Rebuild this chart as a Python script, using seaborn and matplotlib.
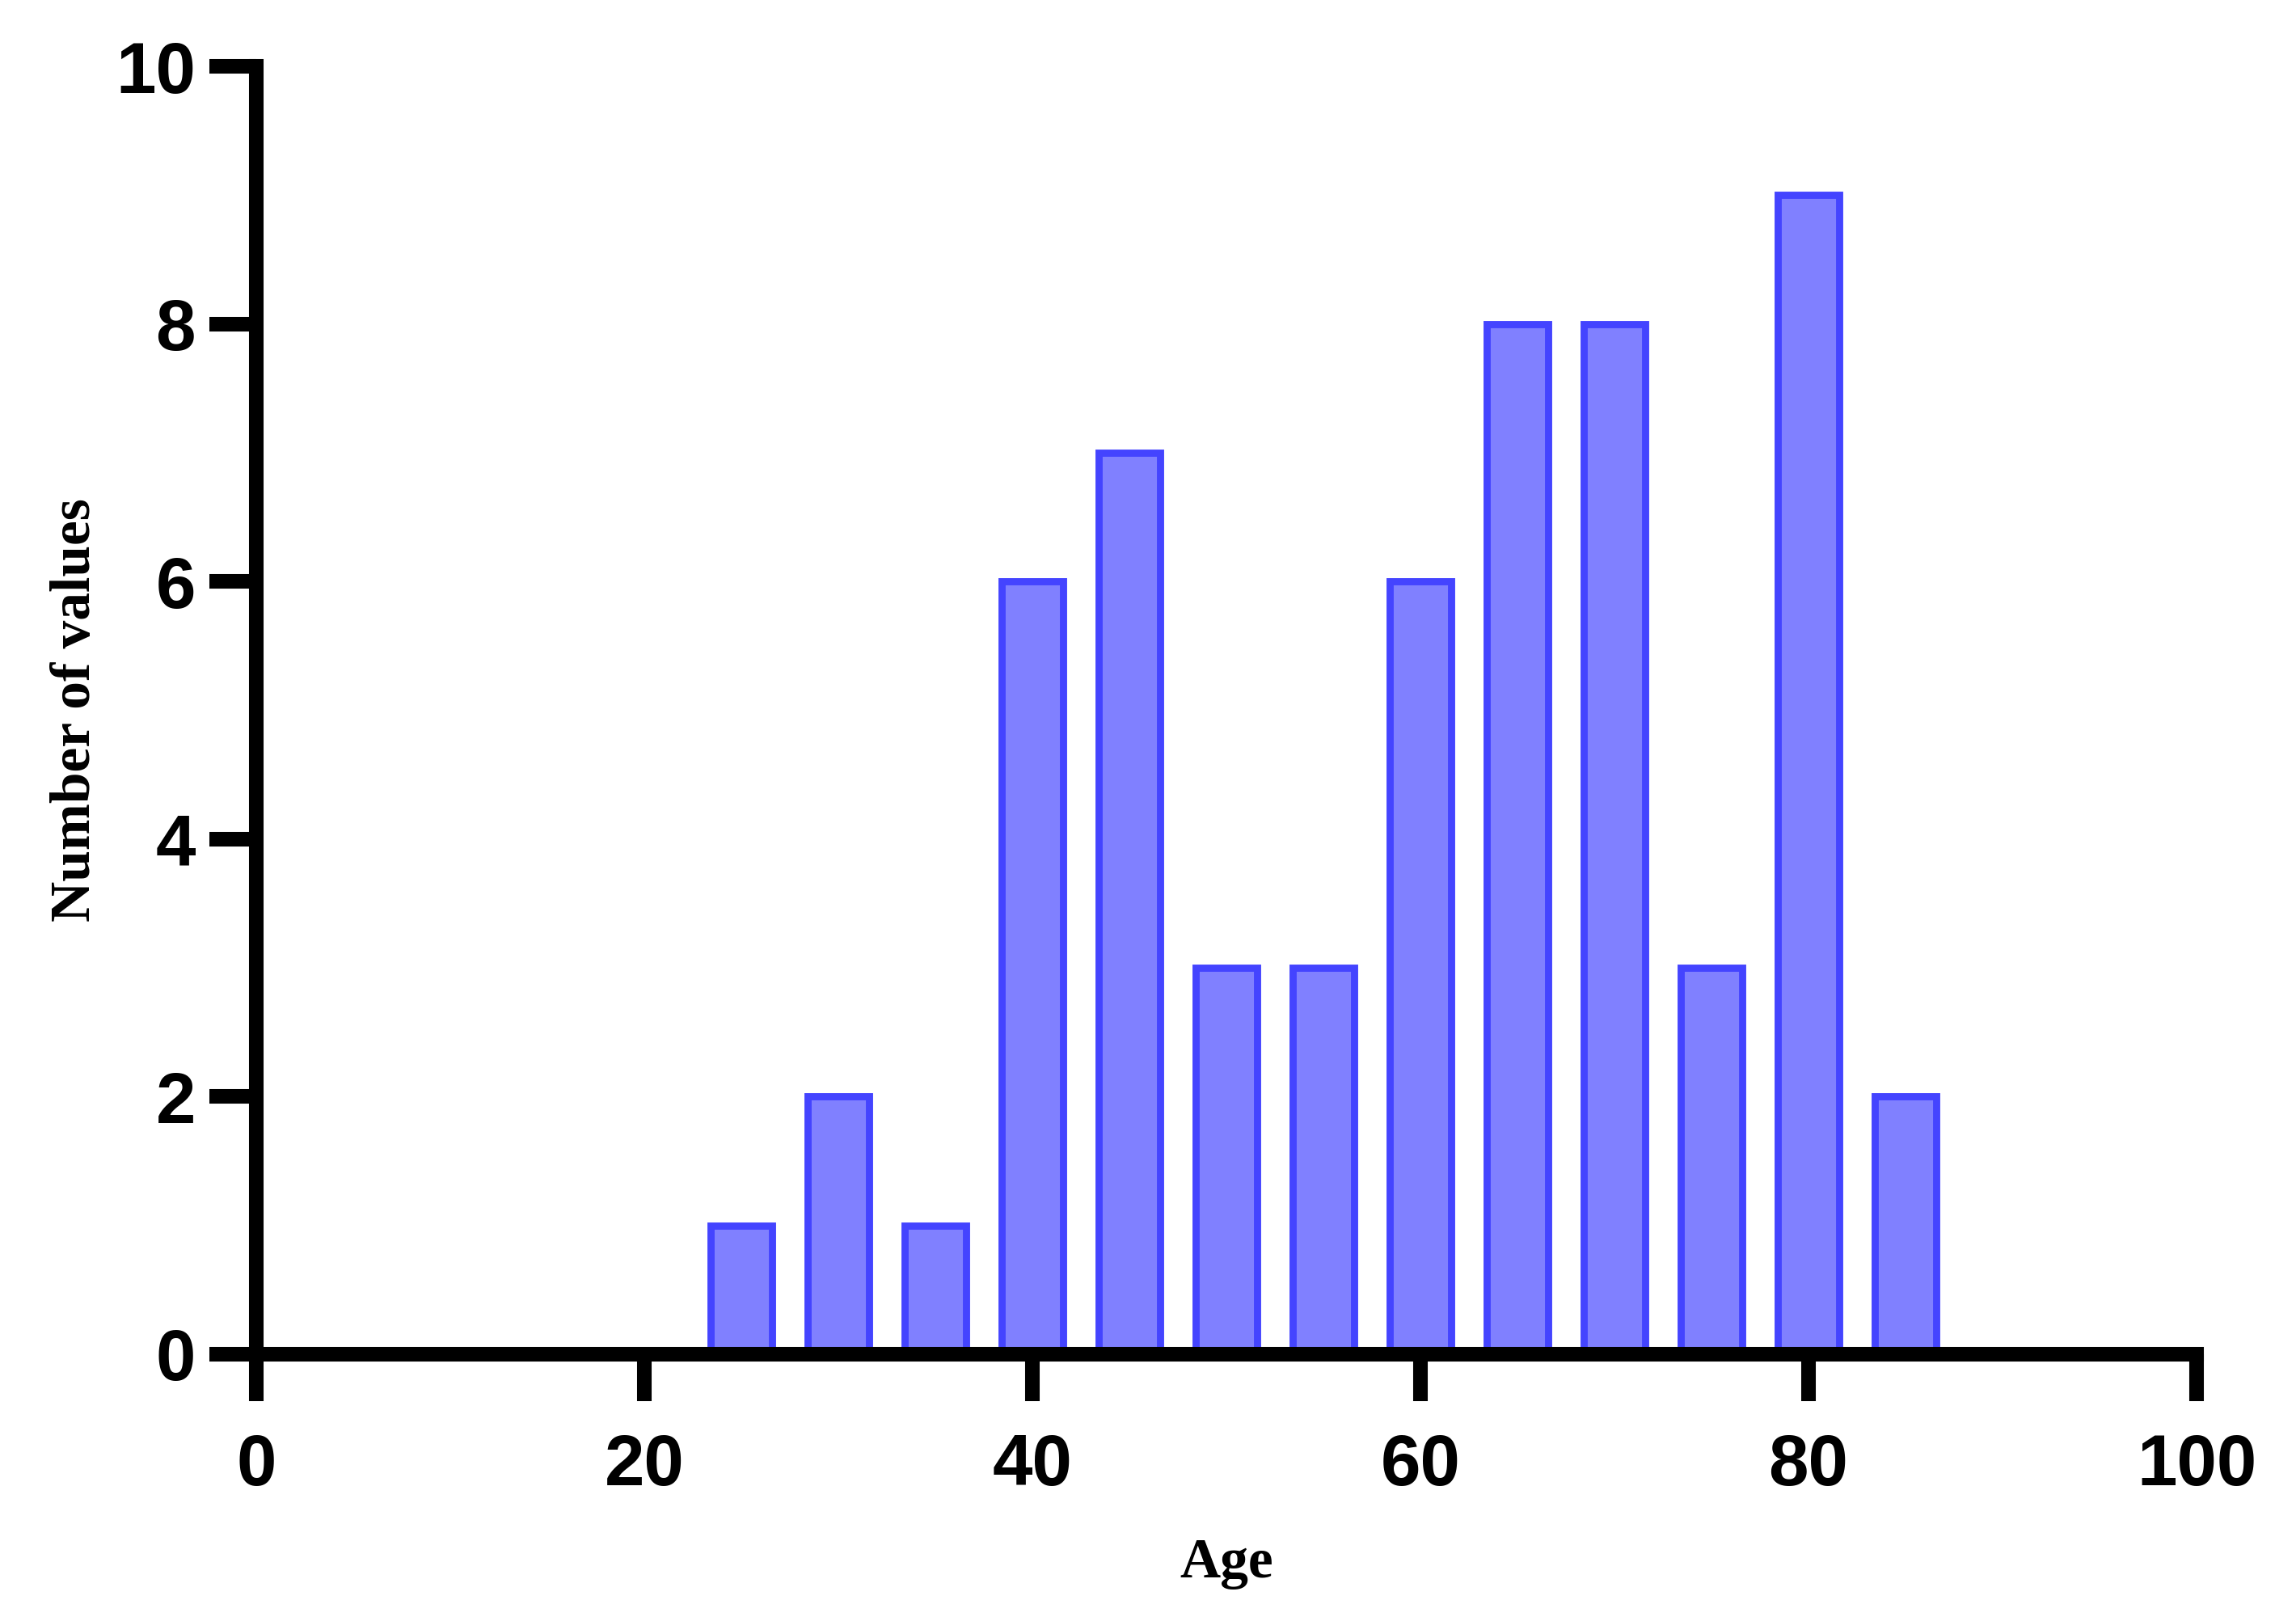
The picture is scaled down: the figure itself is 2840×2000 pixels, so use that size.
import numpy as np
import pandas as pd
import matplotlib
matplotlib.use("Agg")
import matplotlib.pyplot as plt
import seaborn as sns

# bin centres (years) and counts
age = [25, 30, 35, 40, 45, 50, 55, 60, 65, 70, 75, 80, 85]
n_values = [1, 2, 1, 6, 7, 3, 3, 6, 8, 8, 3, 9, 2]
x_ticks = [0, 20, 40, 60, 80, 100]
y_ticks = [0, 2, 4, 6, 8, 10]

df = pd.DataFrame({"Age": age, "Number of values": n_values})

sns.set_style("ticks")
plt.rcParams["font.family"] = ["Liberation Sans", "DejaVu Sans"]
plt.rcParams["font.weight"] = "bold"
plt.rcParams["text.color"] = "black"
plt.rcParams["axes.labelcolor"] = "black"
plt.rcParams["xtick.color"] = "black"
plt.rcParams["ytick.color"] = "black"

fig, ax = plt.subplots(figsize=(14.2, 10), dpi=200)
fig.subplots_adjust(left=0.1116, right=0.9567, top=0.959, bottom=0.1625)

sns.barplot(data=df, x="Age", y="Number of values", native_scale=True,
            width=0.64, color="#8080ff", saturation=1, errorbar=None,
            edgecolor="#4444ff", linewidth=3.2, ax=ax)

ax.set_xlim(0, 100)
ax.set_ylim(0, 10)
ax.set_xticks(x_ticks)
ax.set_yticks(y_ticks)
sns.despine(ax=ax)
for side in ["left", "bottom"]:
    ax.spines[side].set_linewidth(6.5)
    ax.spines[side].set_color("black")
    ax.spines[side].set_capstyle("projecting")
    ax.spines[side].set_zorder(5)

ax.tick_params(axis="both", width=6.5, length=21, labelsize=32,
               color="black", labelcolor="black")
ax.tick_params(axis="x", pad=14)
ax.tick_params(axis="y", pad=6)
for lab in ax.get_xticklabels() + ax.get_yticklabels():
    lab.set_fontweight("bold")

ax.set_xlabel("Age", fontsize=25, fontweight="bold", color="black",
              family=["Liberation Serif", "DejaVu Serif"])
ax.set_ylabel("Number of values", fontsize=25, fontweight="bold", color="black",
              family=["Liberation Serif", "DejaVu Serif"])
ax.xaxis.set_label_coords(0.5, -0.1625)
ax.yaxis.set_label_coords(-0.093, 0.5)
ax.xaxis.label.set_va("center")
ax.yaxis.label.set_va("center")

plt.savefig("out.png", dpi=200, facecolor="white")
